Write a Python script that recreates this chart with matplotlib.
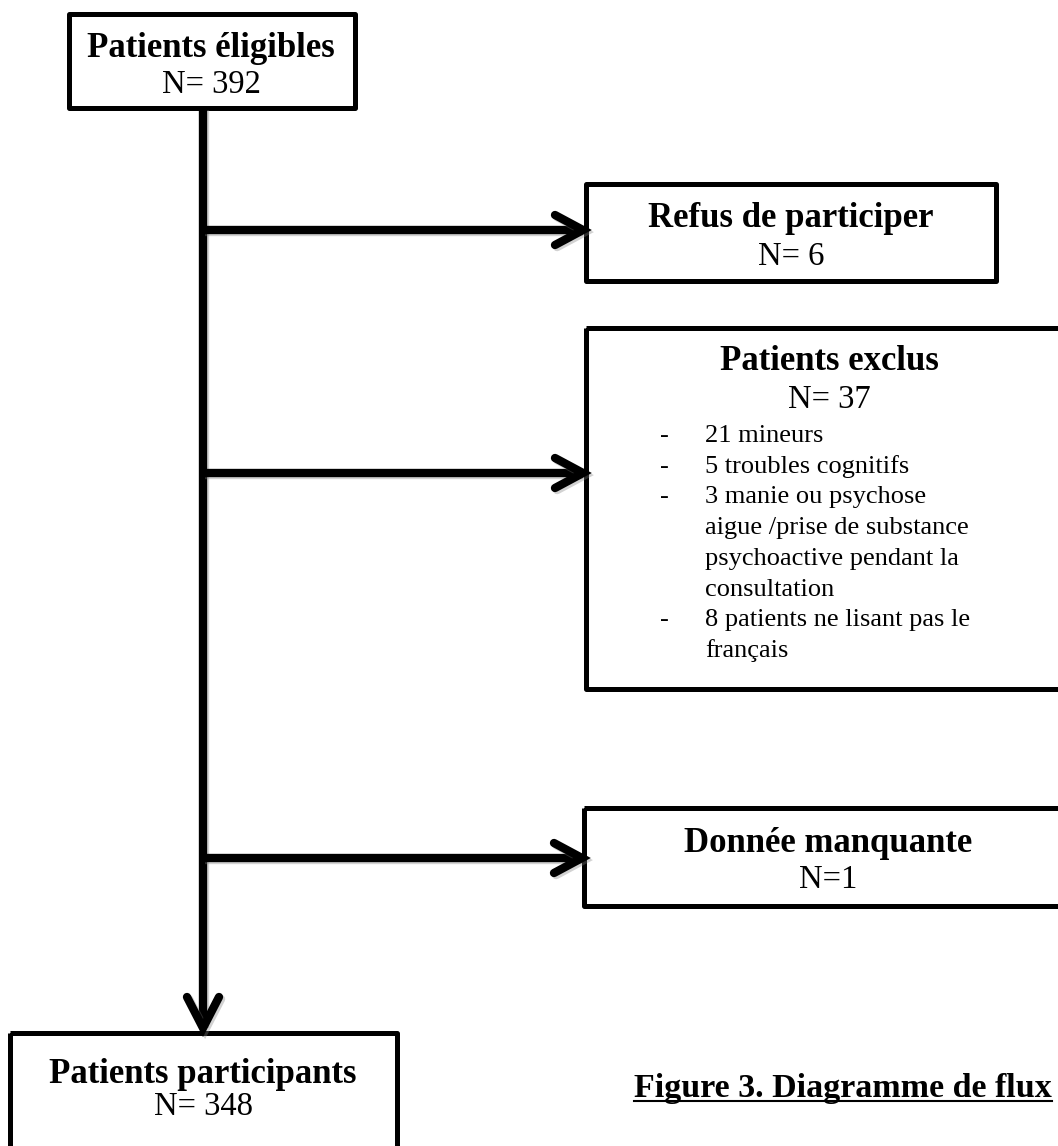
import matplotlib
matplotlib.use("Agg")
from matplotlib import pyplot as plt
from matplotlib.patches import Rectangle
import matplotlib.patheffects as pe

# flowchart contents
box_titles = ["Patients éligibles", "Refus de participer", "Patients exclus",
              "Donnée manquante", "Patients participants"]
box_counts = ["N= 392", "N= 6", "N= 37", "N=1", "N= 348"]
exclusion_bullets = ["-", "-", "-", "", "", "", "-", ""]
exclusion_lines = ["21 mineurs", "5 troubles cognitifs", "3 manie ou psychose",
                   "aigue /prise de substance", "psychoactive pendant la",
                   "consultation", "8 patients ne lisant pas le", "français"]
caption = "Figure 3. Diagramme de flux"

W, H = 1058, 1146
fig = plt.figure(figsize=(W / 100, H / 100), dpi=100)
ax = fig.add_axes([0, 0, 1, 1])
ax.set_xlim(0, W)
ax.set_ylim(H, 0)
ax.axis("off")

serif = "Liberation Serif"

# box geometry in pixels: x0, y0, x1, y1
boxes = [(69, 14, 355, 108),
         (586, 184, 996, 281),
         (586, 328, 1075, 689),
         (584, 808, 1075, 906),
         (10, 1033, 397, 1170)]
title_base = [57, 227, 370, 852, 1083]
count_base = [93, 265, 408, 888, 1115]
centers = [211, 791, 829, 828, 203]

for (x0, y0, x1, y1), t, n, yt, yn, cx in zip(boxes, box_titles, box_counts,
                                              title_base, count_base, centers):
    ax.add_patch(Rectangle((x0, y0), x1 - x0, y1 - y0, fill=False,
                           edgecolor="black", linewidth=3.6, joinstyle="round"))
    ax.text(cx, yt, t, ha="center", va="baseline", fontsize=25,
            fontweight="bold", family=serif)
    ax.text(cx, yn, n, ha="center", va="baseline", fontsize=23.5, family=serif)

# exclusion reasons
for i, (b, line) in enumerate(zip(exclusion_bullets, exclusion_lines)):
    y = 442 + i * 30.7
    if b:
        ax.text(660, y, b, ha="left", va="baseline", fontsize=19, family=serif)
    ax.text(705, y, line, ha="left", va="baseline", fontsize=19, family=serif)

# arrows
shadow = [pe.SimpleLineShadow(offset=(1.5, -1.5), shadow_color="gray", alpha=0.35),
          pe.Normal()]
lw = 6
spine_x = 203
ax.plot([spine_x, spine_x], [108, 1026], color="black", lw=lw,
        solid_capstyle="butt", path_effects=shadow)
ax.plot([spine_x - 16, spine_x, spine_x + 16], [997, 1028, 997], color="black",
        lw=lw, solid_capstyle="round", solid_joinstyle="miter", path_effects=shadow)

for y, tip in zip([230, 473, 858], [583, 583, 582]):
    ax.plot([spine_x, tip - 2], [y, y], color="black", lw=lw,
            solid_capstyle="butt", path_effects=shadow)
    ax.plot([tip - 28, tip, tip - 28], [y - 15, y, y + 15], color="black",
            lw=lw, solid_capstyle="round", solid_joinstyle="miter",
            path_effects=shadow)

# caption, underlined
cap = ax.text(634, 1097, caption, ha="left", va="baseline", fontsize=24.5,
              fontweight="bold", family=serif)
fig.canvas.draw()
bb = cap.get_window_extent().transformed(ax.transData.inverted())
ax.plot([bb.x0, bb.x1], [1101, 1101], color="black", lw=1.5)

fig.savefig("out.png", dpi=100)
